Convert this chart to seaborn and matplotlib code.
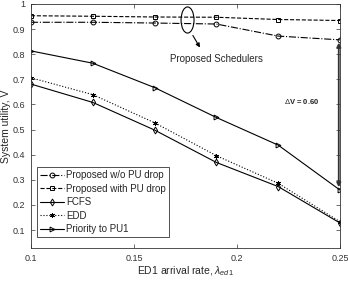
import numpy as np
import matplotlib
matplotlib.use('Agg')
import matplotlib.pyplot as plt
from matplotlib.patches import Ellipse
import seaborn as sns

# Data
rate = [0.10, 0.13, 0.16, 0.19, 0.22, 0.25]
wo_drop = [0.927, 0.927, 0.924, 0.920, 0.872, 0.857]
with_drop = [0.953, 0.951, 0.948, 0.947, 0.938, 0.934]
fcfs = [0.681, 0.608, 0.498, 0.369, 0.273, 0.128]
edd = [0.706, 0.639, 0.527, 0.396, 0.286, 0.133]
priority = [0.813, 0.764, 0.667, 0.548, 0.438, 0.259]

sns.set_style('ticks')
plt.rcParams['font.family'] = ['Liberation Sans', 'DejaVu Sans']
plt.rcParams['mathtext.fontset'] = 'custom'
plt.rcParams['mathtext.it'] = 'Liberation Sans:italic'
plt.rcParams['mathtext.rm'] = 'Liberation Sans'

fig = plt.figure(figsize=(3.48, 2.81), dpi=100)
ax = fig.add_axes([0.089, 0.117, 0.888, 0.869])

common = dict(ax=ax, color='black', linewidth=0.8, markersize=3.5,
              markerfacecolor='none', markeredgecolor='black',
              markeredgewidth=0.7)
sns.lineplot(x=rate, y=wo_drop, marker='o', linestyle='-.',
             label='Proposed w/o PU drop', **common)
sns.lineplot(x=rate, y=with_drop, marker='s', linestyle='--',
             label='Proposed with PU drop', **common)
sns.lineplot(x=rate, y=fcfs, marker='d', linestyle='-',
             label='FCFS', **common)
sns.lineplot(x=rate, y=edd, marker=(6, 2, 0), linestyle=':',
             label='EDD', **common)
sns.lineplot(x=rate, y=priority, marker='>', linestyle='-',
             label='Priority to PU1', **common)

ax.set_xlim(0.1, 0.25)
ax.set_ylim(0.028, 1.0)
ax.set_xticks([0.1, 0.15, 0.2, 0.25])
ax.set_xticklabels(['0.1', '0.15', '0.2', '0.25'])
ax.set_yticks(np.arange(0.1, 1.01, 0.1))
ax.set_yticklabels(['0.1', '0.2', '0.3', '0.4', '0.5', '0.6', '0.7', '0.8', '0.9', '1'])
ax.tick_params(direction='in', length=3, width=0.5, labelsize=6.5,
               top=True, right=True, pad=4, colors='#333333')
for s in ax.spines.values():
    s.set_linewidth(0.6)
    s.set_color('#333333')

ax.set_xlabel('ED1 arrival rate, $\\lambda_{ed1}$', fontsize=7.5, labelpad=1)
ax.set_ylabel('System utility, V', fontsize=7.5, labelpad=1)

# annotations
ax.add_patch(Ellipse((0.176, 0.936), 0.0063, 0.104, fill=False,
                     edgecolor='black', linewidth=0.8))
ax.annotate('', xy=(0.1827, 0.817), xytext=(0.1779, 0.884),
            arrowprops=dict(arrowstyle='-|>', color='black', lw=0.8,
                            mutation_scale=6))
ax.text(0.19, 0.78, 'Proposed Schedulers', fontsize=7,
        ha='center', va='center')
ax.annotate('', xy=(0.2494, 0.259), xytext=(0.2494, 0.857),
            arrowprops=dict(arrowstyle='<|-|>', color='#333333', lw=1.3,
                            mutation_scale=6))
ax.text(0.2316, 0.61, '$\\Delta$V = 0.60', fontsize=5.5, fontweight='bold',
        ha='center', va='center')

leg = ax.legend(loc='lower left', bbox_to_anchor=(0.02, 0.045),
                fontsize=7, frameon=True, fancybox=False,
                handlelength=2.5, handletextpad=0.2, labelspacing=0.36,
                borderpad=0.3, borderaxespad=0)
leg.get_frame().set_edgecolor('black')
leg.get_frame().set_linewidth(0.6)

fig.savefig('out.png', dpi=100)
